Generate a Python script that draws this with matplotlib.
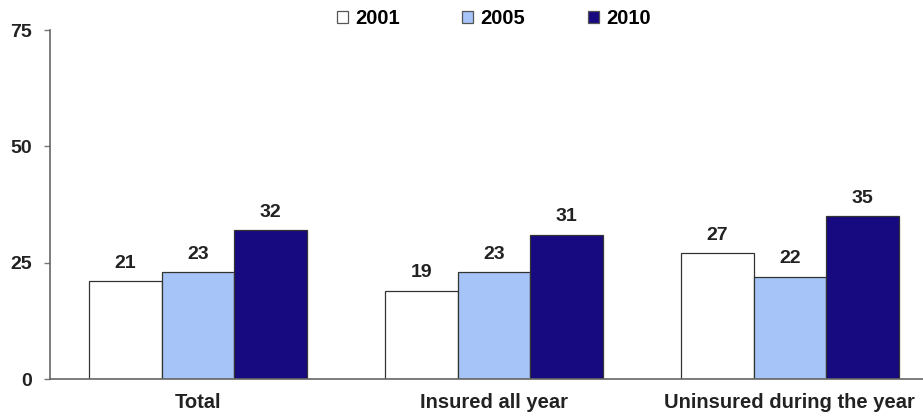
import matplotlib
matplotlib.use("Agg")
import matplotlib.pyplot as plt
import numpy as np

categories = ["Total", "Insured all year", "Uninsured during the year"]
years = ["2001", "2005", "2010"]
values_2001 = [21, 19, 27]
values_2005 = [23, 23, 22]
values_2010 = [32, 31, 35]
yticks = [0, 25, 50, 75]

series = [values_2001, values_2005, values_2010]
colors = ["#ffffff", "#a6c4f7", "#17097f"]

plt.rcParams["font.family"] = ["Liberation Sans", "DejaVu Sans"]
plt.rcParams["font.weight"] = "bold"

fs = 14.5
fig = plt.figure(figsize=(9.23, 4.17), dpi=100)
ax = fig.add_axes([0.054, 0.091, 0.962, 0.837])

x = np.arange(len(categories))
width = 0.245
handles = []
for i, (vals, col, yr) in enumerate(zip(series, colors, years)):
    pos = x + (i - 1) * width
    bars = ax.bar(pos, vals, width=width, color=col, edgecolor="#333333",
                  linewidth=0.9, label=yr, zorder=2)
    handles.append(bars)
    for p, v in zip(pos, vals):
        ax.text(p, v + 2.0, str(v), ha="center", va="bottom",
                fontsize=fs - 0.5, fontweight="bold", color="#222222")

ax.set_xlim(-0.5, len(categories) - 0.5)
ax.set_ylim(0, 75)
ax.set_yticks(yticks)
ax.set_yticklabels([str(t) for t in yticks], fontsize=fs - 0.5, fontweight="bold", color="#222222")
ax.set_xticks(x)
ax.set_xticklabels(categories, fontsize=fs, fontweight="bold", color="#222222")
ax.tick_params(axis="x", length=0, pad=10)
ax.tick_params(axis="y", length=4, width=1, color="#777777", pad=9)

for side in ["top", "right"]:
    ax.spines[side].set_visible(False)
ax.spines["left"].set_color("#666666")
ax.spines["bottom"].set_color("#666666")
ax.spines["left"].set_linewidth(1.2)
ax.spines["bottom"].set_linewidth(1.2)

leg = fig.legend(handles=handles, labels=years, loc="center", bbox_to_anchor=(0.535, 0.956),
                 ncol=3, frameon=False, handlelength=0.55, handleheight=0.55,
                 handletextpad=0.35, columnspacing=3.1, prop={"weight": "bold", "size": fs})
for h in leg.legend_handles:
    h.set_edgecolor("#555555")

fig.savefig("out.png", dpi=100)
